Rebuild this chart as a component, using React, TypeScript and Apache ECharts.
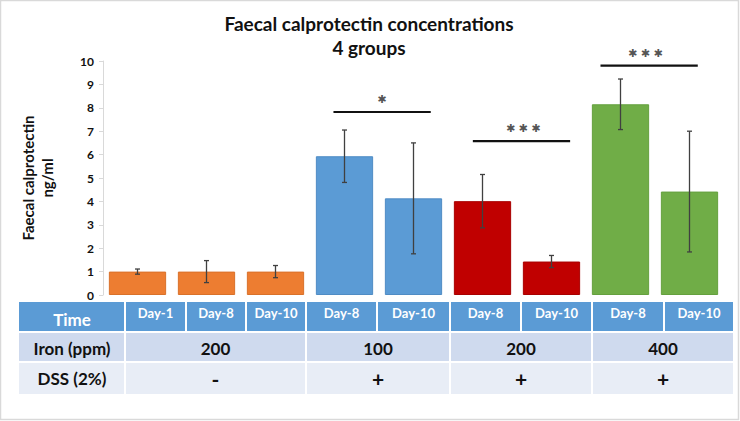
import React, { useEffect, useRef } from "react";
import * as echarts from "echarts";

const categories = ["C Day-1", "C Day-8", "C Day-10", "Fe100 Day-8", "Fe100 Day-10", "Fe200 Day-8", "Fe200 Day-10", "Fe400 Day-8", "Fe400 Day-10"];
const means = [1.0, 1.0, 1.0, 5.93, 4.13, 4.01, 1.43, 8.15, 4.42];
const errors = [0.11, 0.47, 0.26, 1.12, 2.37, 1.14, 0.26, 1.08, 2.58];
const groupOf = [0, 0, 0, 1, 1, 2, 2, 3, 3];
const groupColors = ["#ED7D31", "#5B9BD5", "#C00000", "#70AD47"];
const groupBorders = ["#D9712A", "#4F8CC4", "#A80000", "#64A03E"];

const sigStart = [2.84, 4.86, 6.71];
const sigEnd = [4.25, 6.27, 8.12];
const sigLevel = [7.82, 6.58, 9.8];
const sigLabel = ["✱", "✱ ✱ ✱", "✱ ✱ ✱"];
const sigLabelPos = [3.54, 5.59, 7.36];
const sigLabelLevel = [8.36, 7.13, 10.3];

const yTicks = [0, 1, 2, 3, 4, 5, 6, 7, 8, 9, 10];

const timeLabels = ["Day-1", "Day-8", "Day-10", "Day-8", "Day-10", "Day-8", "Day-10", "Day-8", "Day-10"];
const ironLabels = ["200", "100", "200", "400"];
const dssLabels = ["-", "+", "+", "+"];
const groupSpans = [[0, 3], [3, 5], [5, 7], [7, 9]];

const FONT = "Lato, 'Open Sans', sans-serif";

function posToX(api: any, pos: number) {
  const i = Math.floor(pos);
  const frac = pos - i;
  const c = api.coord([i, 0])[0];
  const bw = api.size([1, 0])[0];
  return c + frac * bw;
}

export default function App() {
  const ref = useRef<HTMLDivElement>(null);
  useEffect(() => {
    if (!ref.current) return;
    const chart = echarts.init(ref.current, undefined, { renderer: "svg" });

    const colEdges = [19, 125, 186, 246, 306, 377, 450, 521, 592, 664, 734];
    const rows = [
      { top: 302, bottom: 331, color: "#5B9BD5" },
      { top: 333, bottom: 361, color: "#CFDAEE" },
      { top: 363, bottom: 394, color: "#E8EDF6" },
    ];
    const graphics: any[] = [];
    graphics.push({
      type: "rect",
      shape: { x: 0.5, y: 0.5, width: 738, height: 419 },
      style: { fill: "none", stroke: "#D9D9D9", lineWidth: 1.5 },
      silent: true,
    });
    graphics.push({
      type: "rect",
      shape: { x: colEdges[0], y: rows[0].top, width: colEdges[1] - colEdges[0] - 1, height: rows[0].bottom - rows[0].top },
      style: { fill: rows[0].color },
    });
    graphics.push({
      type: "text",
      x: (colEdges[0] + colEdges[1]) / 2,
      y: 319,
      style: { text: "Time", fill: "#FFFFFF", font: `bold 17px ${FONT}`, align: "center", verticalAlign: "middle" },
    });
    timeLabels.forEach((t, i) => {
      const x0 = colEdges[i + 1] + 1;
      const x1 = colEdges[i + 2] - 1;
      graphics.push({
        type: "rect",
        shape: { x: x0, y: rows[0].top, width: x1 - x0, height: rows[0].bottom - rows[0].top },
        style: { fill: rows[0].color },
      });
      graphics.push({
        type: "text",
        x: (x0 + x1) / 2,
        y: 313,
        style: { text: t, fill: "#FFFFFF", font: `bold 13px ${FONT}`, align: "center", verticalAlign: "middle" },
      });
    });
    const rowLabels = [
      { name: "Iron (ppm)", vals: ironLabels, row: rows[1], y: 348, vsize: 17 },
      { name: "DSS (2%)", vals: dssLabels, row: rows[2], y: 378, vsize: 21 },
    ];
    rowLabels.forEach((r) => {
      graphics.push({
        type: "rect",
        shape: { x: colEdges[0], y: r.row.top, width: colEdges[1] - colEdges[0] - 1, height: r.row.bottom - r.row.top },
        style: { fill: r.row.color },
      });
      graphics.push({
        type: "text",
        x: (colEdges[0] + colEdges[1]) / 2,
        y: r.y,
        style: { text: r.name, fill: "#111111", font: `bold 17px ${FONT}`, align: "center", verticalAlign: "middle" },
      });
      groupSpans.forEach((s, gi) => {
        const x0 = colEdges[s[0] + 1] + 1;
        const x1 = colEdges[s[1] + 1] - 1;
        graphics.push({
          type: "rect",
          shape: { x: x0, y: r.row.top, width: x1 - x0, height: r.row.bottom - r.row.top },
          style: { fill: r.row.color },
        });
        graphics.push({
          type: "text",
          x: (x0 + x1) / 2,
          y: r.y,
          style: { text: r.vals[gi], fill: "#111111", font: `bold ${r.vsize}px ${FONT}`, align: "center", verticalAlign: "middle" },
        });
      });
    });
    graphics.push({
      type: "text",
      x: 369,
      y: 23,
      style: { text: "Faecal calprotectin concentrations", fill: "#111111", font: `bold 19px ${FONT}`, align: "center", verticalAlign: "middle" },
    });
    graphics.push({
      type: "text",
      x: 369,
      y: 47,
      style: { text: "4 groups", fill: "#111111", font: `bold 19px ${FONT}`, align: "center", verticalAlign: "middle" },
    });
    graphics.push({
      type: "text",
      x: 28,
      y: 178,
      rotation: Math.PI / 2,
      style: { text: "Faecal calprotectin", fill: "#111111", font: `bold 15px ${FONT}`, align: "center", verticalAlign: "middle" },
    });
    graphics.push({
      type: "text",
      x: 47,
      y: 178,
      rotation: Math.PI / 2,
      style: { text: "ng/ml", fill: "#111111", font: `bold 15px ${FONT}`, align: "center", verticalAlign: "middle" },
    });

    chart.setOption({
      animation: false,
      backgroundColor: "#FFFFFF",
      grid: { left: 103, right: 16, top: 61, bottom: 126, containLabel: false },
      xAxis: {
        type: "category",
        data: categories,
        show: false,
      },
      yAxis: {
        type: "value",
        min: yTicks[0],
        max: yTicks[yTicks.length - 1],
        interval: 1,
        splitLine: { show: false },
        axisLine: { show: true, lineStyle: { color: "#D9D9D9", width: 1 } },
        axisTick: { show: true, length: 4, lineStyle: { color: "#D9D9D9" } },
        axisLabel: { color: "#111111", fontWeight: "bold", fontSize: 12, fontFamily: FONT, margin: 9 },
      },
      graphic: graphics,
      series: [
        {
          type: "bar",
          barCategoryGap: "17%",
          data: means.map((v, i) => ({
            value: v,
            itemStyle: { color: groupColors[groupOf[i]], borderColor: groupBorders[groupOf[i]], borderWidth: 1 },
          })),
          z: 2,
        },
        {
          type: "custom",
          z: 5,
          data: means.map((v, i) => [i, v, errors[i]]),
          renderItem: (params: any, api: any) => {
            const i = api.value(0);
            const v = api.value(1);
            const e = api.value(2);
            const top = api.coord([i, v + e]);
            const bot = api.coord([i, v - e]);
            const hw = 2.5;
            const st = { stroke: "#404040", lineWidth: 1.3 };
            return {
              type: "group",
              children: [
                { type: "line", shape: { x1: top[0], y1: top[1], x2: bot[0], y2: bot[1] }, style: st },
                { type: "line", shape: { x1: top[0] - hw, y1: top[1], x2: top[0] + hw, y2: top[1] }, style: st },
                { type: "line", shape: { x1: bot[0] - hw, y1: bot[1], x2: bot[0] + hw, y2: bot[1] }, style: st },
              ],
            };
          },
        },
        {
          type: "custom",
          z: 6,
          clip: false,
          data: sigLevel.map((l, k) => [sigStart[k], sigEnd[k], l, sigLabelPos[k], sigLabelLevel[k], k]),
          renderItem: (params: any, api: any) => {
            const k = api.value(5);
            const x1 = posToX(api, api.value(0));
            const x2 = posToX(api, api.value(1));
            const y = api.coord([0, api.value(2)])[1];
            const lx = posToX(api, api.value(3));
            const ly = api.coord([0, api.value(4)])[1];
            return {
              type: "group",
              children: [
                { type: "line", shape: { x1, y1: y, x2, y2: y }, style: { stroke: "#111111", lineWidth: 2.2 } },
                {
                  type: "text",
                  x: lx,
                  y: ly,
                  style: {
                    text: sigLabel[k],
                    fill: "#555555",
                    font: "11px 'DejaVu Sans', sans-serif",
                    align: "center",
                    verticalAlign: "middle",
                  },
                },
              ],
            };
          },
        },
      ],
    });
    return () => chart.dispose();
  }, []);
  return <div ref={ref} style={{ position: "fixed", left: 0, top: 0, width: 740, height: 421 }} />;
}
